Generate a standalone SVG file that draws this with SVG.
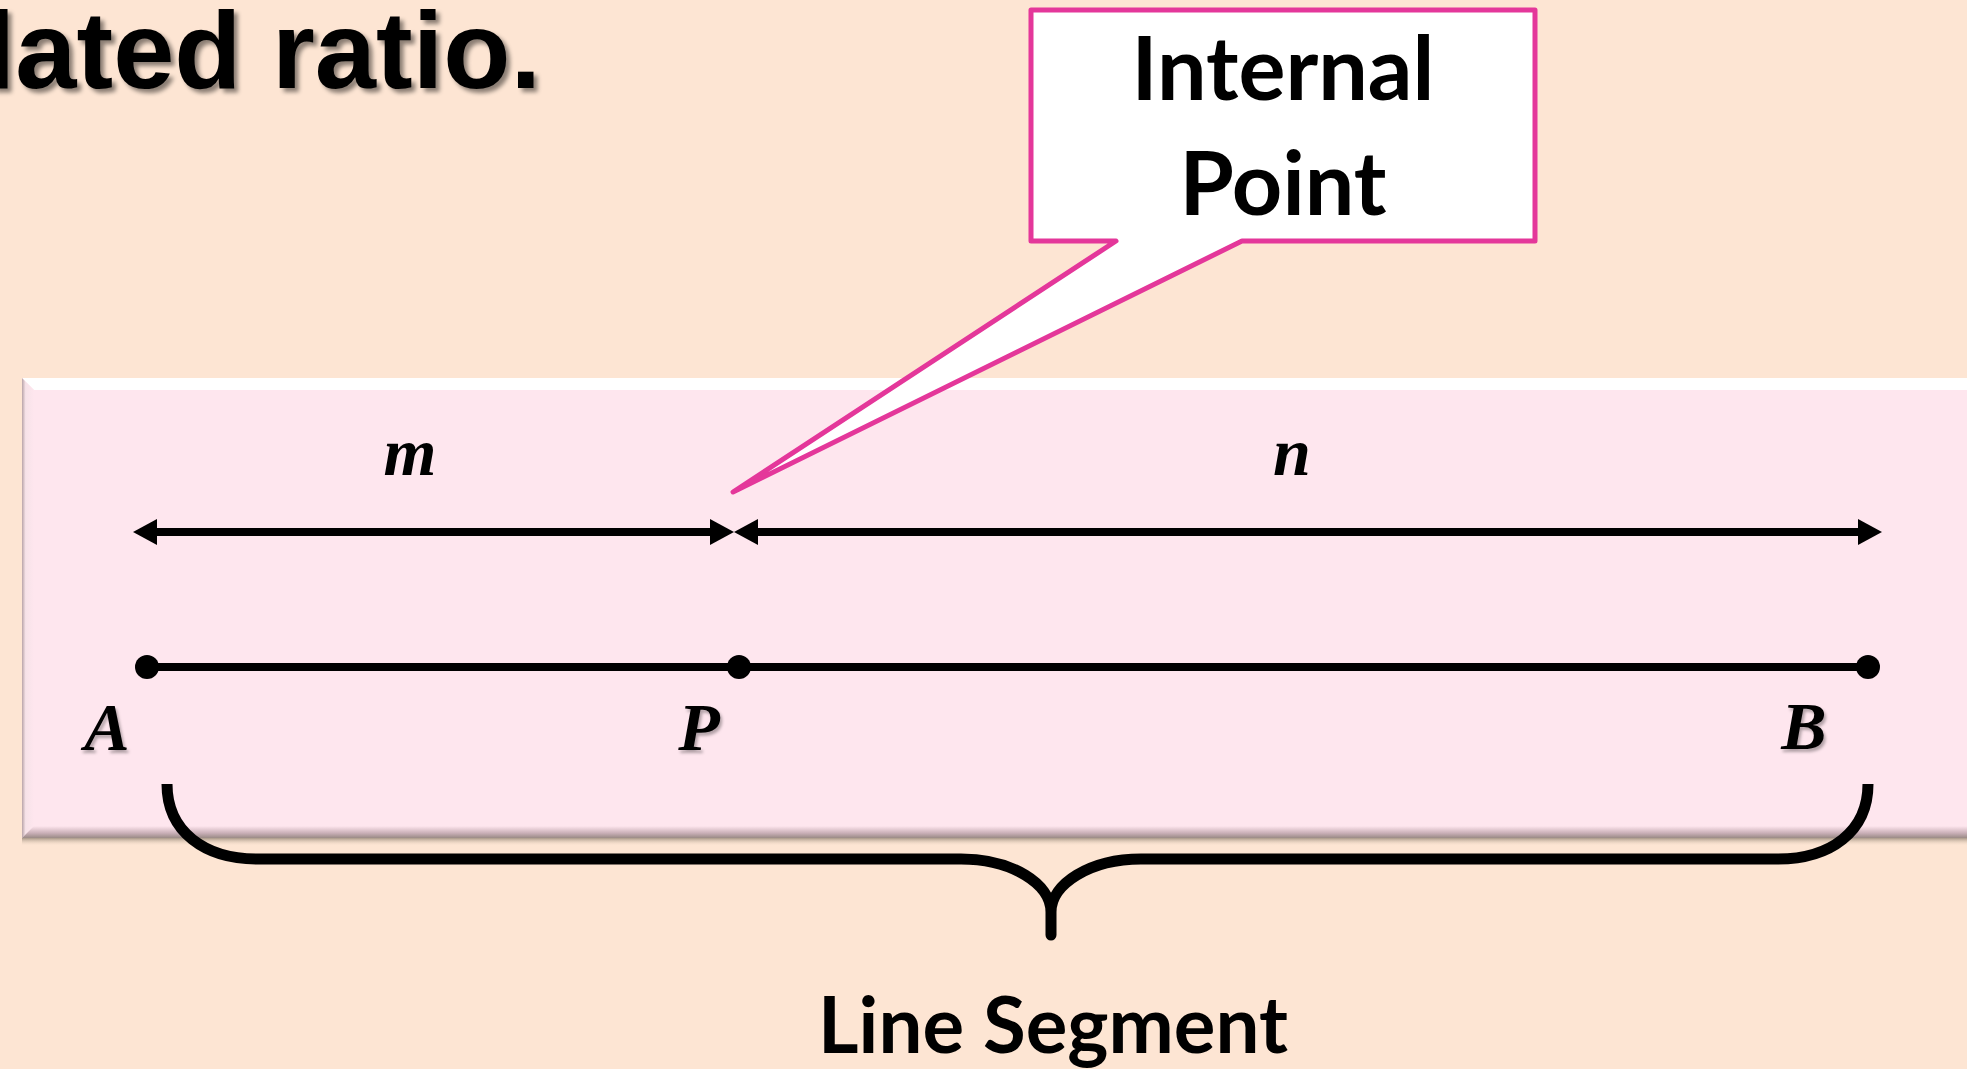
<svg xmlns="http://www.w3.org/2000/svg" width="1967" height="1069" viewBox="0 0 1967 1069">
<style>
.title{font-family:"Liberation Sans",Arial,sans-serif;font-weight:bold;font-size:110px;fill:#000}
.cal{font-family:Lato,"Open Sans",sans-serif;font-weight:bold;fill:#000;text-anchor:middle}
.math{font-family:"Liberation Serif","Times New Roman",serif;font-weight:bold;font-style:italic;font-size:68px;fill:#000;text-anchor:middle}
.ln{stroke:#000;stroke-width:8;fill:none}
.dot{fill:#000}
</style>
<defs>
<filter id="sh" x="-10%" y="-10%" width="130%" height="140%">
<feDropShadow dx="4" dy="4" stdDeviation="2" flood-color="#000" flood-opacity="0.45"/>
</filter>
<filter id="sh2" x="-20%" y="-20%" width="150%" height="150%">
<feDropShadow dx="2" dy="3" stdDeviation="1.5" flood-color="#000" flood-opacity="0.3"/>
</filter>
<linearGradient id="bot" x1="0" y1="0" x2="0" y2="1">
<stop offset="0" stop-color="#FEE6EE"/>
<stop offset="0.6" stop-color="#C8AEB6"/>
<stop offset="1" stop-color="#9A8A86"/>
</linearGradient>
<linearGradient id="shd" x1="0" y1="0" x2="0" y2="1">
<stop offset="0" stop-color="#A89888"/>
<stop offset="1" stop-color="#FDE5D3" stop-opacity="0"/>
</linearGradient>
<linearGradient id="lft" x1="0" y1="0" x2="1" y2="0">
<stop offset="0" stop-color="#B8A4A8"/>
<stop offset="0.3" stop-color="#F6E2E8"/>
<stop offset="1" stop-color="#FEE6EE"/>
</linearGradient>
<marker id="ah" markerUnits="userSpaceOnUse" markerWidth="26" markerHeight="28" viewBox="0 0 26 28" refX="0" refY="14" orient="auto-start-reverse">
<path d="M0,1 L24,14 L0,27 Z" fill="#000"/>
</marker>
</defs>
<rect width="1967" height="1069" fill="#FDE5D3"/>
<g id="title">
<text class="title" x="541" y="88" text-anchor="end" filter="url(#sh)">lated ratio.</text>
</g>
<g id="panel">
<rect x="22" y="838" width="1945" height="8" fill="url(#shd)"/>
<rect x="22" y="378" width="1945" height="460" fill="#FEE6EE"/>
<polygon points="22,378 1967,378 1967,390 34,390" fill="#FFFFFF"/>
<polygon points="22,378 34,390 34,826 22,838" fill="url(#lft)"/>
<polygon points="22,838 34,826 1967,826 1967,838" fill="url(#bot)"/>
</g>
<g id="callout">
<path d="M1031,10 H1535 V241 H1242 L733,492 L1116,241 H1031 Z" fill="#FFFFFF" stroke="#E4379A" stroke-width="5" stroke-linejoin="round"/>
<text class="cal" x="1283" y="100" font-size="88">Internal</text>
<text class="cal" x="1283" y="215" font-size="88">Point</text>
</g>
<g id="connectors">
<path class="ln" d="M157,532 H710" marker-start="url(#ah)" marker-end="url(#ah)"/>
<path class="ln" d="M758,532 H1858" marker-start="url(#ah)" marker-end="url(#ah)"/>
<path class="ln" d="M147,667 H1868"/>
<path d="M167,784 C167,832 205,859 257,859 L961,859 C1012,859 1051,884 1051,912 L1051,935 L1051,912 C1051,884 1090,859 1141,859 L1778,859 C1830,859 1868,832 1868,784" fill="none" stroke="#000" stroke-width="11" stroke-linejoin="round"/>
</g>
<g id="point-A">
<circle class="dot" cx="147" cy="667" r="12"/>
<text class="math" x="107" y="750" filter="url(#sh2)">A</text>
</g>
<g id="point-P">
<circle class="dot" cx="739" cy="667" r="12"/>
<text class="math" x="699" y="750" filter="url(#sh2)">P</text>
</g>
<g id="point-B">
<circle class="dot" cx="1868" cy="667" r="12"/>
<text class="math" x="1804" y="749" filter="url(#sh2)">B</text>
</g>
<g id="label-m"><text class="math" x="410" y="475">m</text></g>
<g id="label-n"><text class="math" x="1292" y="475">n</text></g>
<g id="label-line-segment"><text class="cal" x="1053" y="1053" font-size="78">Line Segment</text></g>
</svg>
